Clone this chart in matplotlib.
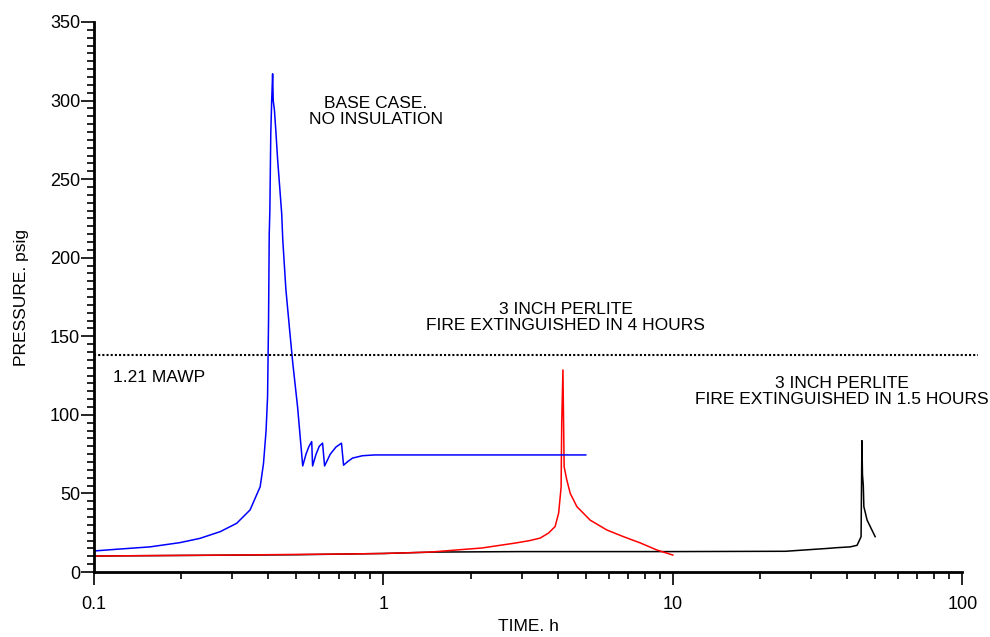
import numpy as np
import matplotlib
matplotlib.use("Agg")
import matplotlib.pyplot as plt
from matplotlib.ticker import MultipleLocator, LogLocator, NullFormatter

plt.rcParams['font.family'] = ['Liberation Sans', 'DejaVu Sans']

# base case, no insulation (blue)
base_t = [0.1, 0.12, 0.156, 0.198, 0.232, 0.273, 0.311, 0.346, 0.375, 0.385,
          0.393, 0.3977, 0.4008, 0.403, 0.405, 0.408, 0.411, 0.414, 0.416, 0.420, 0.425,
          0.431, 0.438, 0.445, 0.449, 0.460, 0.474, 0.486, 0.505, 0.526,
          0.540, 0.553, 0.565, 0.569, 0.585, 0.600, 0.616, 0.626, 0.655, 0.685, 0.716,
          0.728, 0.755, 0.782, 0.846, 0.930, 5.0]
base_p = [13.4, 14.5, 16, 18.7, 21.4, 25.7, 31, 39.5, 54.3, 69,
          90, 111.6, 160, 215, 230, 279, 300, 317, 300, 294, 280,
          262, 245, 228, 211, 180, 154, 133, 105, 67.5,
          75, 80, 83, 67.5, 75, 80, 82, 67.5, 75, 79.5, 82,
          68, 70.5, 72.5, 74, 74.5, 74.5]

# 3 inch perlite, fire out at 4 h (red)
p4_t = [0.1, 0.3, 0.5, 0.77, 1.0, 1.45, 2.19, 2.87, 3.2, 3.48, 3.72, 3.92, 4.03,
        4.11, 4.13, 4.17, 4.21, 4.30, 4.42, 4.66, 5.18, 5.92, 6.75, 7.72, 8.81, 10.0]
p4_p = [10.2, 10.8, 11.2, 11.5, 11.8, 12.7, 15.3, 18.5, 20, 21.6, 24.8, 29, 37.5,
        54, 95, 128.6, 67, 58.6, 50, 41.6, 33, 26.7, 22.5, 18.5, 14, 10.8]

# 3 inch perlite, fire out at 1.5 h (black)
p15_t = [0.1, 0.5, 1.0, 1.5, 3.0, 10.0, 24.5, 34.1, 36.9, 41.0, 43.3, 44.7,
         45.0, 45.2, 45.5, 45.7, 46.9, 50.0]
p15_p = [10.2, 11.0, 11.8, 12.7, 13.0, 13.0, 13.2, 15, 15.5, 16, 17, 22.5,
         83.6, 62, 55, 41.6, 33, 22.5]

mawp_121 = 138

fig = plt.figure(figsize=(9.9, 6.37), dpi=100)
ax = fig.add_axes([0.095, 0.102, 0.877, 0.8635])

ax.plot(p15_t, p15_p, color='black', lw=1.1)
ax.plot(p4_t, p4_p, color='red', lw=1.1)
ax.plot(base_t, base_p, color='blue', lw=1.1)
ax.plot([0.1, 113], [mawp_121, mawp_121], color='black', lw=1.5,
        linestyle=(0, (1, 1)), clip_on=False)

ax.set_xscale('log')
ax.set_xlim(0.1, 100)
ax.set_ylim(0, 350)
ax.set_xticks([0.1, 1, 10, 100])
ax.set_xticklabels(['0.1', '1', '10', '100'])
ax.xaxis.set_minor_locator(LogLocator(base=10, subs=np.arange(2, 10)))
ax.xaxis.set_minor_formatter(NullFormatter())
ax.yaxis.set_major_locator(MultipleLocator(50))
ax.yaxis.set_minor_locator(MultipleLocator(5))

for s in ['top', 'right']:
    ax.spines[s].set_visible(False)
for s in ['left', 'bottom']:
    ax.spines[s].set_linewidth(2)

ax.tick_params(axis='both', which='major', direction='out', length=9.5, width=1.2,
               labelsize=13)
ax.tick_params(axis='both', which='minor', direction='out', length=5, width=1.2)
ax.tick_params(axis='x', which='major', pad=8)
ax.tick_params(axis='y', which='major', pad=0.5)

ax.set_xlabel('TIME. h', fontsize=12.5, labelpad=4)
ax.set_ylabel('PRESSURE. psig', fontsize=12.5, labelpad=15)

ax.text(0.94, 293, 'BASE CASE.\nNO INSULATION', ha='center', va='center',
        fontsize=12.5, linespacing=1.1)
ax.text(4.27, 162, '3 INCH PERLITE\nFIRE EXTINGUISHED IN 4 HOURS', ha='center',
        va='center', fontsize=12.5, linespacing=1.1)
ax.text(38.3, 115, '3 INCH PERLITE\nFIRE EXTINGUISHED IN 1.5 HOURS', ha='center',
        va='center', fontsize=12.5, linespacing=1.1)
ax.text(0.116, 123.5, '1.21 MAWP', ha='left', va='center', fontsize=12.5)

fig.savefig('out.png', dpi=100)
